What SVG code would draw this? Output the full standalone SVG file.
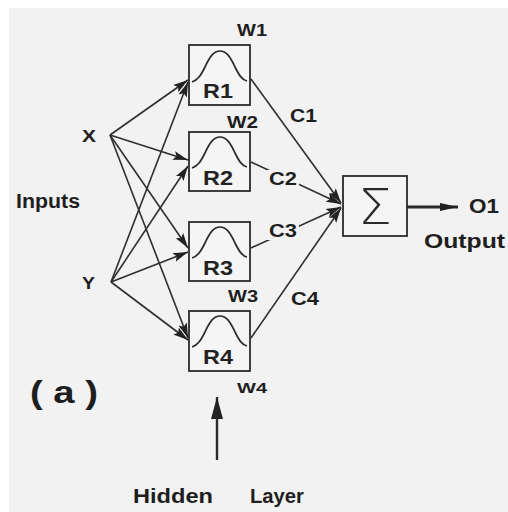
<svg xmlns="http://www.w3.org/2000/svg" width="508" height="512" viewBox="0 0 508 512">
  <style>
    .bg { fill: #f2f2f2; }
    .box { fill: #f5f5f5; stroke: #2b2b2b; stroke-width: 1.8; }
    .curve { fill: none; stroke: #2b2b2b; stroke-width: 1.7; }
    .edge { fill: none; stroke: #2f2f2f; stroke-width: 1.6; }
    .lbl { font-family: "Liberation Sans", Arial, sans-serif; font-weight: bold; fill: #1e1e1e; }
    .rl { font-family: "Liberation Sans", Arial, sans-serif; font-weight: bold; font-size: 21px; fill: #222; }
    .sig { font-family: "DejaVu Sans", "Liberation Sans", sans-serif; font-weight: 200; font-size: 50px; fill: #2b2b2b; }
  </style>
  <defs>
    <marker id="arr" markerUnits="userSpaceOnUse" markerWidth="16" markerHeight="11" refX="15" refY="5.5" orient="auto">
      <path d="M0,1 L15,5.5 L0,10 L3,5.5 Z" fill="#222"/>
    </marker>
    <marker id="arrOut" markerUnits="userSpaceOnUse" markerWidth="20" markerHeight="10" refX="18" refY="5" orient="auto">
      <path d="M0,1 L18,5 L0,9 Z" fill="#222"/>
    </marker>
    <marker id="arrUp" markerUnits="userSpaceOnUse" markerWidth="24" markerHeight="14" refX="22" refY="7" orient="auto">
      <path d="M0,1 L22,7 L0,13 Z" fill="#222"/>
    </marker>
    <!-- radial-basis bump drawn inside each hidden unit -->
    <path id="bump" class="curve" d="M3,37 C9,35 12,30 16,22 C21,11 25,6 31,6 C37,6 41,11 46,22 C50,30 53,35 58,36"/>
  </defs>

  <!-- page -->
  <rect x="0" y="0" width="508" height="512" fill="#ffffff"/>
  <rect class="bg" x="9" y="8" width="499" height="504"/>

  <!-- connectors -->
  <g id="connectors">
    <line class="edge" x1="110" y1="135" x2="188" y2="80" marker-end="url(#arr)"/>
    <line class="edge" x1="110" y1="135" x2="188" y2="160" marker-end="url(#arr)"/>
    <line class="edge" x1="110" y1="135" x2="188" y2="248" marker-end="url(#arr)"/>
    <line class="edge" x1="110" y1="135" x2="188" y2="338" marker-end="url(#arr)"/>
    <line class="edge" x1="111" y1="282" x2="188" y2="82" marker-end="url(#arr)"/>
    <line class="edge" x1="111" y1="282" x2="188" y2="166" marker-end="url(#arr)"/>
    <line class="edge" x1="111" y1="282" x2="188" y2="252" marker-end="url(#arr)"/>
    <line class="edge" x1="111" y1="282" x2="188" y2="340" marker-end="url(#arr)"/>

    <line class="edge" x1="251" y1="79" x2="341" y2="203" marker-end="url(#arr)"/>
    <line class="edge" x1="251" y1="162" x2="341" y2="204" marker-end="url(#arr)"/>
    <line class="edge" x1="251" y1="248" x2="341" y2="207" marker-end="url(#arr)"/>
    <line class="edge" x1="251" y1="338" x2="341" y2="208" marker-end="url(#arr)"/>

    <line x1="407" y1="207" x2="458" y2="207" stroke="#2b2b2b" stroke-width="3" marker-end="url(#arrOut)"/>
    <line x1="217" y1="460" x2="217" y2="397" stroke="#2b2b2b" stroke-width="2.4" marker-end="url(#arrUp)"/>
  </g>

  <!-- weight labels on the hidden-to-output links -->
  <g id="c-labels">
    <rect x="267" y="170" width="32" height="18" class="bg"/>
    <rect x="267" y="222" width="32" height="18" class="bg"/>
    <text class="lbl" x="290" y="122" font-size="19" textLength="27" lengthAdjust="spacingAndGlyphs">C1</text>
    <text class="lbl" x="269" y="185" font-size="19" textLength="28" lengthAdjust="spacingAndGlyphs">C2</text>
    <text class="lbl" x="269" y="237" font-size="19" textLength="28" lengthAdjust="spacingAndGlyphs">C3</text>
    <text class="lbl" x="291" y="305" font-size="19" textLength="28" lengthAdjust="spacingAndGlyphs">C4</text>
  </g>

  <!-- inputs -->
  <g id="inputs">
    <text class="lbl" x="82" y="142" font-size="16" textLength="14" lengthAdjust="spacingAndGlyphs">X</text>
    <text class="lbl" x="82" y="289" font-size="17" textLength="13" lengthAdjust="spacingAndGlyphs">Y</text>
    <text class="lbl" x="16" y="208" font-size="20" textLength="64" lengthAdjust="spacingAndGlyphs">Inputs</text>
  </g>

  <!-- hidden radial units -->
  <g id="R1">
    <rect class="box" x="189" y="45" width="61" height="60"/>
    <use href="#bump" x="189" y="45"/>
    <text class="rl" x="203" y="98" textLength="30" lengthAdjust="spacingAndGlyphs">R1</text>
    <text class="lbl" x="237" y="36" font-size="16" textLength="30" lengthAdjust="spacingAndGlyphs">W1</text>
  </g>
  <g id="R2">
    <rect class="box" x="189" y="132" width="61" height="59"/>
    <use href="#bump" x="189" y="131"/>
    <text class="rl" x="203" y="185" textLength="30" lengthAdjust="spacingAndGlyphs">R2</text>
    <text class="lbl" x="227" y="128" font-size="16" textLength="31" lengthAdjust="spacingAndGlyphs">W2</text>
  </g>
  <g id="R3">
    <rect class="box" x="189" y="222" width="61" height="59"/>
    <use href="#bump" x="189" y="221"/>
    <text class="rl" x="203" y="275" textLength="30" lengthAdjust="spacingAndGlyphs">R3</text>
    <text class="lbl" x="228" y="302" font-size="16" textLength="30" lengthAdjust="spacingAndGlyphs">W3</text>
  </g>
  <g id="R4">
    <rect class="box" x="189" y="311" width="61" height="60"/>
    <use href="#bump" x="189" y="310"/>
    <text class="rl" x="203" y="364" textLength="30" lengthAdjust="spacingAndGlyphs">R4</text>
    <text class="lbl" x="237" y="393" font-size="14" textLength="30" lengthAdjust="spacingAndGlyphs">W4</text>
  </g>

  <!-- summing output unit -->
  <g id="sum">
    <rect class="box" x="343" y="176" width="64" height="60"/>
    <text class="sig" x="358" y="224" textLength="34" lengthAdjust="spacingAndGlyphs">Σ</text>
    <text class="lbl" x="469" y="213" font-size="20" textLength="30" lengthAdjust="spacingAndGlyphs">O1</text>
    <text class="lbl" x="424" y="248" font-size="20" textLength="81" lengthAdjust="spacingAndGlyphs">Output</text>
  </g>

  <!-- captions -->
  <g id="captions">
    <text class="lbl" x="30" y="403" font-size="32" textLength="68" lengthAdjust="spacingAndGlyphs">( a )</text>
    <text class="lbl" x="133" y="503" font-size="20" textLength="80" lengthAdjust="spacingAndGlyphs">Hidden</text>
    <text class="lbl" x="250" y="503" font-size="20" textLength="54" lengthAdjust="spacingAndGlyphs">Layer</text>
  </g>
</svg>
